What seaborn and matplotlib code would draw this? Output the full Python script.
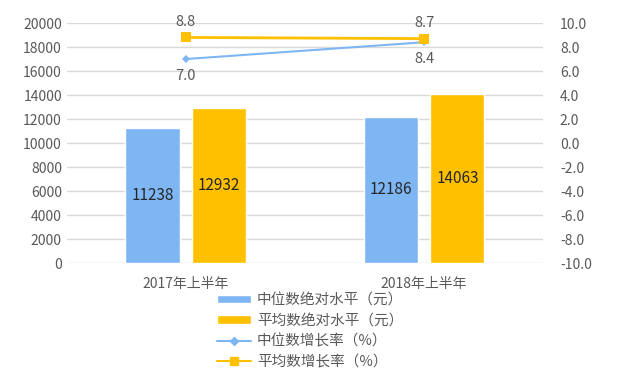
import pandas as pd
import matplotlib
matplotlib.use("Agg")
import matplotlib.pyplot as plt
from matplotlib.lines import Line2D
from matplotlib.patches import Patch
import seaborn as sns

# data
periods = ["2017年上半年", "2018年上半年"]
median_level = [11238, 12186]
mean_level = [12932, 14063]
median_growth = [7.0, 8.4]
mean_growth = [8.8, 8.7]
bar_names = ["中位数绝对水平（元）", "平均数绝对水平（元）"]
line_names = ["中位数增长率（%）", "平均数增长率（%）"]

blue = "#7EB6F4"
gold = "#FFC000"
grey = "#595959"

sns.set_theme(style="white")
plt.rcParams["font.family"] = ["Noto Sans CJK SC", "DejaVu Sans"]

df_bars = pd.DataFrame({
    "period": periods * 2,
    "value": median_level + mean_level,
    "series": [bar_names[0]] * 2 + [bar_names[1]] * 2,
})

fig = plt.figure(figsize=(6.18, 3.84), dpi=100)
ax = fig.add_axes([0.108, 0.315, 0.771, 0.625])

sns.barplot(
    data=df_bars, x="period", y="value", hue="series",
    palette=[blue, gold], width=0.56, gap=0.19, ax=ax, legend=False,
    saturation=1,
)
for cont in ax.containers:
    ax.bar_label(cont, label_type="center", fontsize=11, color="#262626")

ax.set_xlim(-0.5, 1.5)
ax.set_ylim(0, 20000)
ax.set_yticks(range(0, 20001, 2000))
ax.yaxis.grid(True, color="#D9D9D9", linewidth=1)
ax.set_axisbelow(True)
ax.set_xlabel("")
ax.set_ylabel("")
ax.tick_params(axis="both", length=0, labelsize=10, labelcolor=grey)
ax.tick_params(axis="x", pad=10)
for s in ax.spines.values():
    s.set_visible(False)

ax2 = ax.twinx()
sns.lineplot(x=[0, 1], y=median_growth, ax=ax2, color=blue, marker="D",
             markersize=4, markeredgewidth=0, linewidth=1.5)
sns.lineplot(x=[0, 1], y=mean_growth, ax=ax2, color=gold, marker="s",
             markersize=7, markeredgewidth=0, linewidth=2)
ax2.set_ylim(-10, 10)
ax2.set_yticks(range(-10, 11, 2))
ax2.set_yticklabels([f"{v:.1f}" for v in range(-10, 11, 2)])
ax2.tick_params(axis="y", length=0, labelsize=10, labelcolor=grey, pad=12)
ax2.set_ylabel("")
for s in ax2.spines.values():
    s.set_visible(False)

for i in range(2):
    ax2.annotate(f"{mean_growth[i]:.1f}", (i, mean_growth[i]), xytext=(0, 6),
                 textcoords="offset points", ha="center", va="bottom",
                 fontsize=10.5, color=grey)
    ax2.annotate(f"{median_growth[i]:.1f}", (i, median_growth[i]), xytext=(0, -7),
                 textcoords="offset points", ha="center", va="top",
                 fontsize=10.5, color=grey)

handles = [
    Patch(facecolor=blue, label=bar_names[0]),
    Patch(facecolor=gold, label=bar_names[1]),
    Line2D([0], [0], color=blue, marker="D", markersize=4, label=line_names[0]),
    Line2D([0], [0], color=gold, marker="s", markersize=6, label=line_names[1]),
]
leg = fig.legend(handles=handles, loc="upper left", bbox_to_anchor=(0.34, 0.256),
                 frameon=False, fontsize=10.5, labelcolor=grey, handlelength=2.3,
                 handleheight=0.5, labelspacing=0.45, borderpad=0, handletextpad=0.4)

fig.savefig("out.png", dpi=100)
